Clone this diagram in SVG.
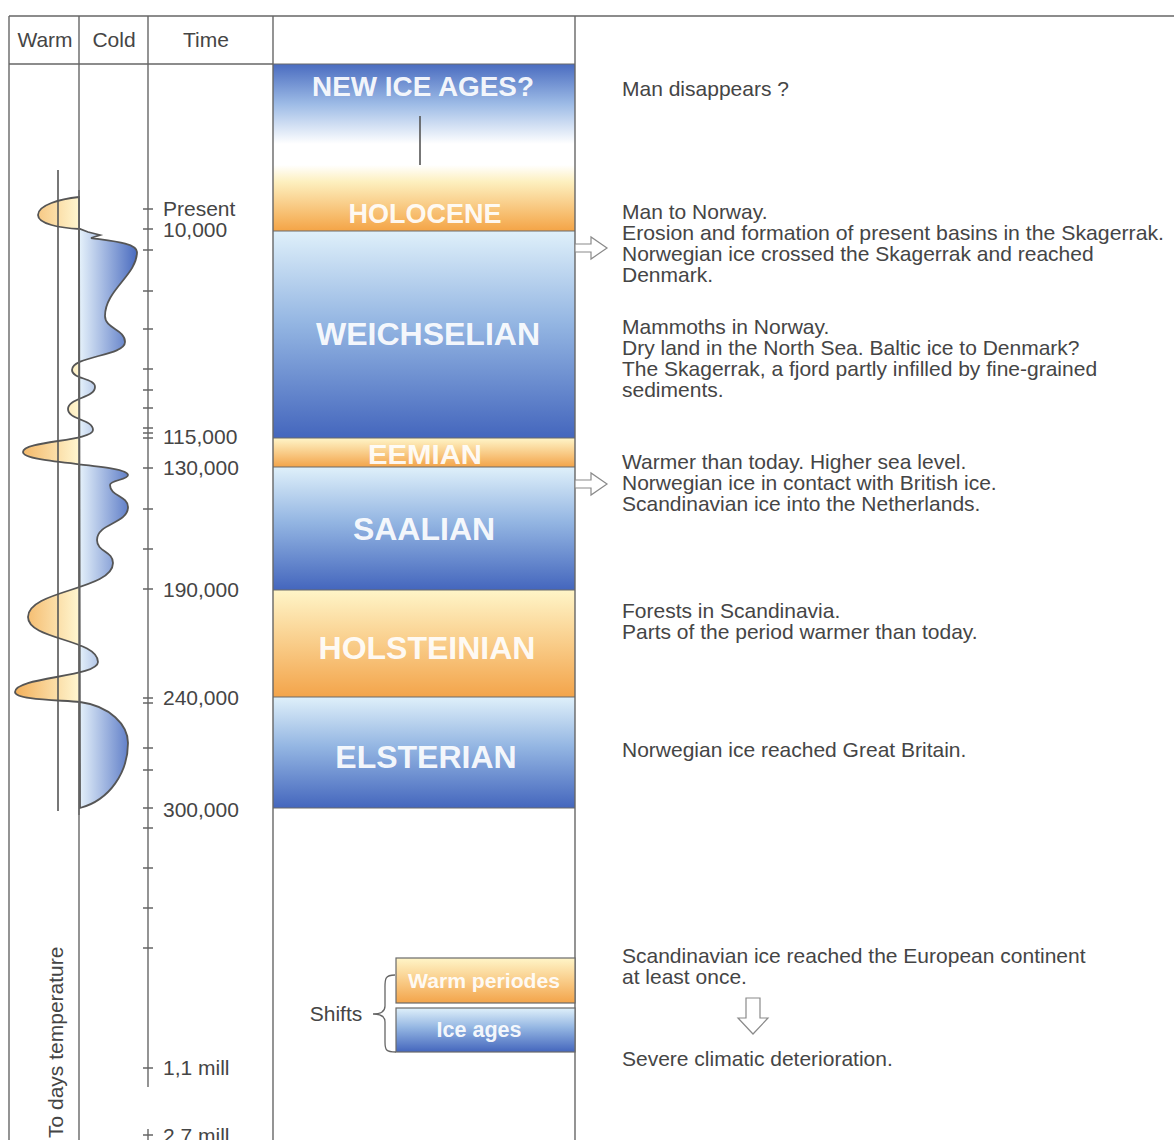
<svg xmlns="http://www.w3.org/2000/svg" width="1174" height="1140" viewBox="0 0 1174 1140">
<defs>
<style>
.fr{stroke:#666;stroke-width:1.4;fill:none}
.lbl{font-family:"Liberation Sans",Arial,sans-serif;font-size:21px;fill:#454545}
.per{font-family:"Liberation Sans",Arial,sans-serif;font-weight:bold;fill:#fff;text-anchor:middle;fill-opacity:0.93}
.tk{stroke:#666;stroke-width:1.4}
.bd{stroke:#6a6a6a;stroke-width:1.2}
.arr{fill:#fff;stroke:#8a8a8a;stroke-width:1.2}
</style>
<linearGradient id="blue" x1="0" y1="0" x2="0" y2="1">
<stop offset="0" stop-color="#dff0fa"/>
<stop offset="0.45" stop-color="#93b5e2"/>
<stop offset="1" stop-color="#4466bd"/>
</linearGradient>
<linearGradient id="orange" x1="0" y1="0" x2="0" y2="1">
<stop offset="0" stop-color="#fff5c8"/>
<stop offset="1" stop-color="#f3a44a"/>
</linearGradient>
<linearGradient id="newice" x1="0" y1="0" x2="0" y2="1">
<stop offset="0" stop-color="#4a6cc0"/>
<stop offset="0.5" stop-color="#9dbbe6"/>
<stop offset="1" stop-color="#ffffff"/>
</linearGradient>
<linearGradient id="holo" x1="0" y1="0" x2="0" y2="1">
<stop offset="0" stop-color="#ffffff"/>
<stop offset="0.25" stop-color="#fdf0c0"/>
<stop offset="1" stop-color="#f4a446"/>
</linearGradient>
<linearGradient id="warmH" x1="0" y1="0" x2="1" y2="0">
<stop offset="0" stop-color="#f0a040"/>
<stop offset="1" stop-color="#fff6d0"/>
</linearGradient>
<linearGradient id="coldH" x1="0" y1="0" x2="1" y2="0">
<stop offset="0" stop-color="#e6f2fb"/>
<stop offset="1" stop-color="#3f62bb"/>
</linearGradient>
<clipPath id="curveClip">
<path id="curveArea" d="M79,197 C60,199 38,205 38,215 C38,224 60,228 80,229 L88,232 L100,235 L91,238 C112,241 137,243 137,252 C137,275 105,290 105,316 C105,329 125,329 125,342 C125,356 72,356 72,370 C72,379 95,378 95,387 C95,398 68,398 68,409 C68,420 93,419 93,430 C93,441 23,441 23,452 C23,464 128,464 128,475 C128,480 110,480 110,485 C110,496 128,496 128,507 C128,524 97,523 97,540 C97,552 113,551 113,563 C113,590 28,590 28,617 C28,640 98,639 98,662 C98,677 15,677 15,692 C15,700 60,700 80,702 C110,706 128,725 128,743 C128,772 110,800 80,808 Z"/>
</clipPath>
</defs>
<rect width="1174" height="1140" fill="#fff"/>

<g id="new-ice-ages">
<rect x="273" y="64" width="302" height="80" fill="url(#newice)"/>
<line class="bd" x1="273" y1="64" x2="575" y2="64"/>
<text class="per" x="423" y="96" font-size="27" textLength="222" lengthAdjust="spacingAndGlyphs">NEW ICE AGES?</text>
</g>
<g id="connector-line">
<line x1="420" y1="116" x2="420" y2="186" stroke="#555" stroke-width="1.6"/>
</g>
<g id="holocene">
<rect x="273" y="165" width="302" height="66" fill="url(#holo)"/>
<text class="per" x="425" y="223" font-size="27">HOLOCENE</text>
</g>
<g id="weichselian">
<rect x="273" y="231" width="302" height="207" fill="url(#blue)"/>
<line class="bd" x1="273" y1="231" x2="575" y2="231"/>
<text class="per" x="428" y="345" font-size="32">WEICHSELIAN</text>
</g>
<g id="eemian">
<rect x="273" y="438" width="302" height="29" fill="url(#orange)"/>
<line class="bd" x1="273" y1="438" x2="575" y2="438"/>
<text class="per" x="425" y="464" font-size="27" textLength="114" lengthAdjust="spacingAndGlyphs">EEMIAN</text>
</g>
<g id="saalian">
<rect x="273" y="467" width="302" height="123" fill="url(#blue)"/>
<line class="bd" x1="273" y1="467" x2="575" y2="467"/>
<text class="per" x="424" y="540" font-size="32">SAALIAN</text>
</g>
<g id="holsteinian">
<rect x="273" y="590" width="302" height="107" fill="url(#orange)"/>
<line class="bd" x1="273" y1="590" x2="575" y2="590"/>
<text class="per" x="427" y="659" font-size="32">HOLSTEINIAN</text>
</g>
<g id="elsterian">
<rect x="273" y="697" width="302" height="111" fill="url(#blue)"/>
<line class="bd" x1="273" y1="697" x2="575" y2="697"/>
<line class="bd" x1="273" y1="808" x2="575" y2="808"/>
<text class="per" x="426" y="768" font-size="32">ELSTERIAN</text>
</g>

<g id="frame">
<line class="fr" x1="9" y1="16" x2="1174" y2="16"/>
<line class="fr" x1="9" y1="16" x2="9" y2="1140"/>
<line class="fr" x1="79" y1="16" x2="79" y2="1140"/>
<line class="fr" x1="273" y1="16" x2="273" y2="1140"/>
<line class="fr" x1="575" y1="16" x2="575" y2="1140"/>
<line class="fr" x1="9" y1="64" x2="273" y2="64"/>
<line class="fr" x1="148" y1="16" x2="148" y2="1087"/>
<line class="fr" x1="148" y1="1129" x2="148" y2="1140"/>
<text class="lbl" x="45" y="47" text-anchor="middle">Warm</text>
<text class="lbl" x="114" y="47" text-anchor="middle">Cold</text>
<text class="lbl" x="206" y="47" text-anchor="middle">Time</text>
</g>

<g id="temperature-curve">
<g clip-path="url(#curveClip)">
<rect x="0" y="180" width="79" height="640" fill="url(#warmH)"/>
<rect x="79" y="180" width="62" height="640" fill="url(#coldH)"/>
</g>
<use href="#curveArea" fill="none" stroke="#555" stroke-width="1.8"/>
<line x1="79" y1="190" x2="79" y2="815" stroke="#666" stroke-width="1.4"/>
<line x1="58" y1="170" x2="58" y2="811" stroke="#555" stroke-width="1.6"/>
<text class="lbl" x="63" y="1138" transform="rotate(-90 63 1138)">To days temperature</text>
</g>

<g id="time-axis">
<path class="tk" d="M143,209H153M143,229H153M143,250H153M143,291H153M143,329H153M143,369H153M143,390H153M143,408H153M143,428H153M143,433H153M143,438H153M143,468H153M143,509H153M143,549H153M143,589H153M143,698H153M143,703H153M143,748H153M143,770H153M143,808H153M143,828H153M143,868H153M143,908H153M143,948H153M143,1068H153M143,1135H153"/>
<text class="lbl" x="163" y="216">Present</text>
<text class="lbl" x="163" y="237">10,000</text>
<text class="lbl" x="163" y="444">115,000</text>
<text class="lbl" x="163" y="475">130,000</text>
<text class="lbl" x="163" y="597">190,000</text>
<text class="lbl" x="163" y="705">240,000</text>
<text class="lbl" x="163" y="817">300,000</text>
<text class="lbl" x="163" y="1075">1,1 mill</text>
<text class="lbl" x="163" y="1143">2.7 mill</text>
</g>

<g id="warm-periodes">
<rect x="396" y="958" width="179" height="45" fill="url(#orange)" stroke="#6a6a6a" stroke-width="1.2"/>
<text class="per" x="484" y="988" font-size="21" textLength="152" lengthAdjust="spacingAndGlyphs">Warm periodes</text>
</g>
<g id="ice-ages">
<rect x="396" y="1008" width="179" height="44" fill="url(#blue)" stroke="#6a6a6a" stroke-width="1.2"/>
<text class="per" x="479" y="1037" font-size="22" textLength="85" lengthAdjust="spacingAndGlyphs">Ice ages</text>
</g>
<g id="shifts">
<path d="M395,975 C384,975 385,980 385,990 L385,1006 C385,1012 380,1014 373,1014 C380,1014 385,1016 385,1022 L385,1042 C385,1050 386,1052 396,1052" fill="none" stroke="#666" stroke-width="1.3"/>
<text class="lbl" x="336" y="1021" text-anchor="middle">Shifts</text>
</g>

<g id="connectors">
<path class="arr" d="M575,244 H591 V237 L607,248 L591,259 V252 H575 Z"/>
<path class="arr" d="M575,480 H591 V473 L607,484 L591,495 V488 H575 Z"/>
<path class="arr" d="M746,998 H760 V1018 H768 L753,1034 L738,1018 H746 Z"/>
</g>

<g id="descriptions" class="lbl">
<text x="622" y="96">Man disappears ?</text>
<text x="622" y="219">Man to Norway.</text>
<text x="622" y="240" textLength="542" lengthAdjust="spacingAndGlyphs">Erosion and formation of present basins in the Skagerrak.</text>
<text x="622" y="261">Norwegian ice crossed the Skagerrak and reached</text>
<text x="622" y="282">Denmark.</text>
<text x="622" y="334">Mammoths in Norway.</text>
<text x="622" y="355">Dry land in the North Sea. Baltic ice to Denmark?</text>
<text x="622" y="376">The Skagerrak, a fjord partly infilled by fine-grained</text>
<text x="622" y="397">sediments.</text>
<text x="622" y="469">Warmer than today. Higher sea level.</text>
<text x="622" y="490">Norwegian ice in contact with British ice.</text>
<text x="622" y="511">Scandinavian ice into the Netherlands.</text>
<text x="622" y="618">Forests in Scandinavia.</text>
<text x="622" y="639">Parts of the period warmer than today.</text>
<text x="622" y="757">Norwegian ice reached Great Britain.</text>
<text x="622" y="963">Scandinavian ice reached the European continent</text>
<text x="622" y="984">at least once.</text>
<text x="622" y="1066">Severe climatic deterioration.</text>
</g>
</svg>
